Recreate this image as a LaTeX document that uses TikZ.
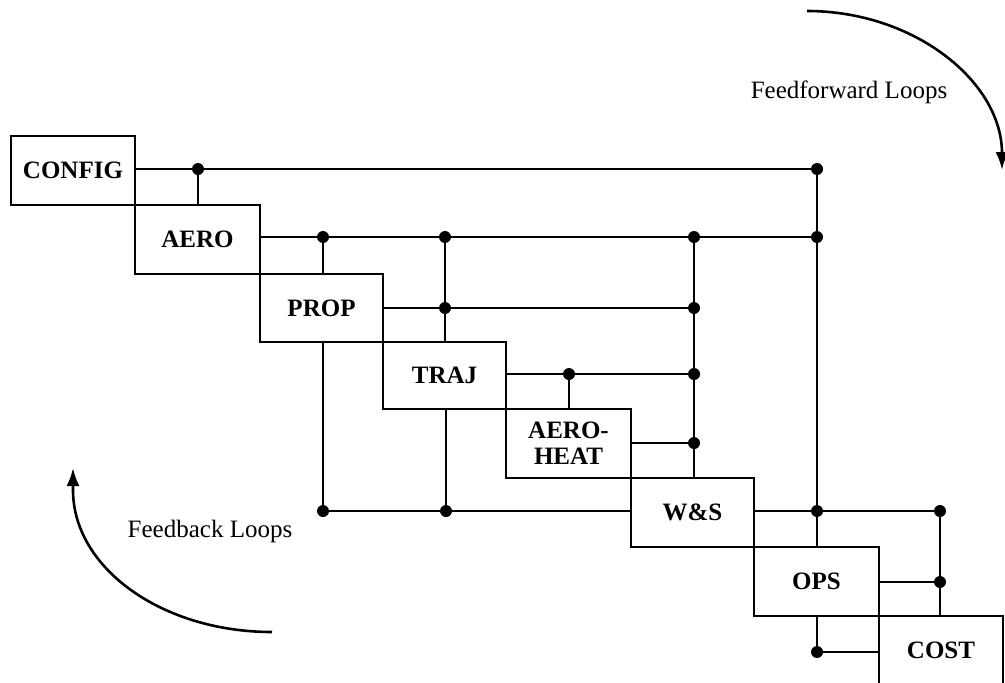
\documentclass[tikz,border=0pt]{standalone}
\usepackage{fontspec}
\setmainfont{Liberation Serif}
\usetikzlibrary{arrows.meta}
\tikzset{
  box/.style={draw, line width=2pt, inner sep=0pt, outer sep=0pt, align=center,
    font=\bfseries\fontsize{25}{26}\selectfont},
  conn/.style={line width=1.6pt},
  thickconn/.style={line width=2.2pt},
  looplabel/.style={font=\fontsize{25}{28}\selectfont, inner sep=0pt},
  looparrow/.style={line width=2.6pt, -{Latex[length=18pt,width=13pt]}}
}
\begin{document}
\begin{tikzpicture}[x=1pt,y=-1pt]
\useasboundingbox (0,0) rectangle (1005,683);
\clip (0,0) rectangle (1005,683);
% boxes
\node[box, minimum width=124pt, minimum height=69pt] (config) at (73,170.5) {CONFIG};
\node[box, minimum width=125pt, minimum height=69pt] (aero) at (197.5,239.5) {AERO};
\node[box, minimum width=123pt, minimum height=68pt] (prop) at (321.5,308) {PROP};
\node[box, minimum width=123pt, minimum height=67pt] (traj) at (444.5,375.5) {TRAJ};
\node[box, minimum width=125pt, minimum height=69pt] (heat) at (568.5,443.5) {AERO-\\HEAT};
\node[box, minimum width=123pt, minimum height=69pt] (ws) at (692.5,512.5) {W\&S};
\node[box, minimum width=125pt, minimum height=69pt] (ops) at (816.5,581.5) {OPS};
\node[box, minimum width=124pt, minimum height=69pt] (cost) at (941,650.5) {COST};
% junctions
\coordinate (c1) at (198,169);
\coordinate (c2) at (817,169);
\coordinate (a1) at (323,237);
\coordinate (a2) at (445,237);
\coordinate (a3) at (694,237);
\coordinate (a4) at (817,237);
\coordinate (p1) at (445,308);
\coordinate (p2) at (694,308);
\coordinate (t1) at (569,374);
\coordinate (t2) at (694,374);
\coordinate (h1) at (694,443);
\coordinate (f1) at (323,511);
\coordinate (f2) at (446,511);
\coordinate (w1) at (817,511);
\coordinate (w2) at (940,511);
\coordinate (o1) at (940,582);
\coordinate (k1) at (817,652);
% connectors
\draw[conn] (config.east |- c1) -- (c2);
\draw[conn] (c1) -- (c1 |- aero.north);
\draw[conn] (c2) -- (c2 |- ops.north);
\draw[conn] (aero.east |- a1) -- (a4);
\draw[conn] (a1) -- (a1 |- prop.north);
\draw[conn] (a2) -- (a2 |- traj.north);
\draw[conn] (a3) -- (a3 |- ws.north);
\draw[conn] (prop.east |- p1) -- (p2);
\draw[conn] (traj.east |- t1) -- (t2);
\draw[conn] (t1) -- (t1 |- heat.north);
\draw[thickconn] (heat.east |- h1) -- (h1);
\draw[conn] (f1 |- prop.south) -- (f1) -- (ws.west |- f1);
\draw[conn] (f2 |- traj.south) -- (f2);
\draw[conn] (ws.east |- w1) -- (w2);
\draw[thickconn] (w2) -- (w2 |- cost.north);
\draw[thickconn] (ops.east |- o1) -- (o1);
\draw[conn] (k1 |- ops.south) -- (k1) -- (cost.west |- k1);
% dots
\foreach \p in {c1,c2,a1,a2,a3,a4,p1,p2,t1,t2,h1,f1,f2,w1,w2,o1,k1}
  \fill (\p) circle[radius=6pt];
% loop labels
\node[looplabel] (ff) at (849,92) {Feedforward Loops};
\node[looplabel] (fb) at (210,531) {Feedback Loops};
% loop arrows
\draw[looparrow] (807,11) .. controls (914.7,11) and (1002,82) .. (1002,170);
\draw[looparrow] (272,632) .. controls (162,632) and (73,568) .. (73,490) -- (73,468);
\end{tikzpicture}
\end{document}
